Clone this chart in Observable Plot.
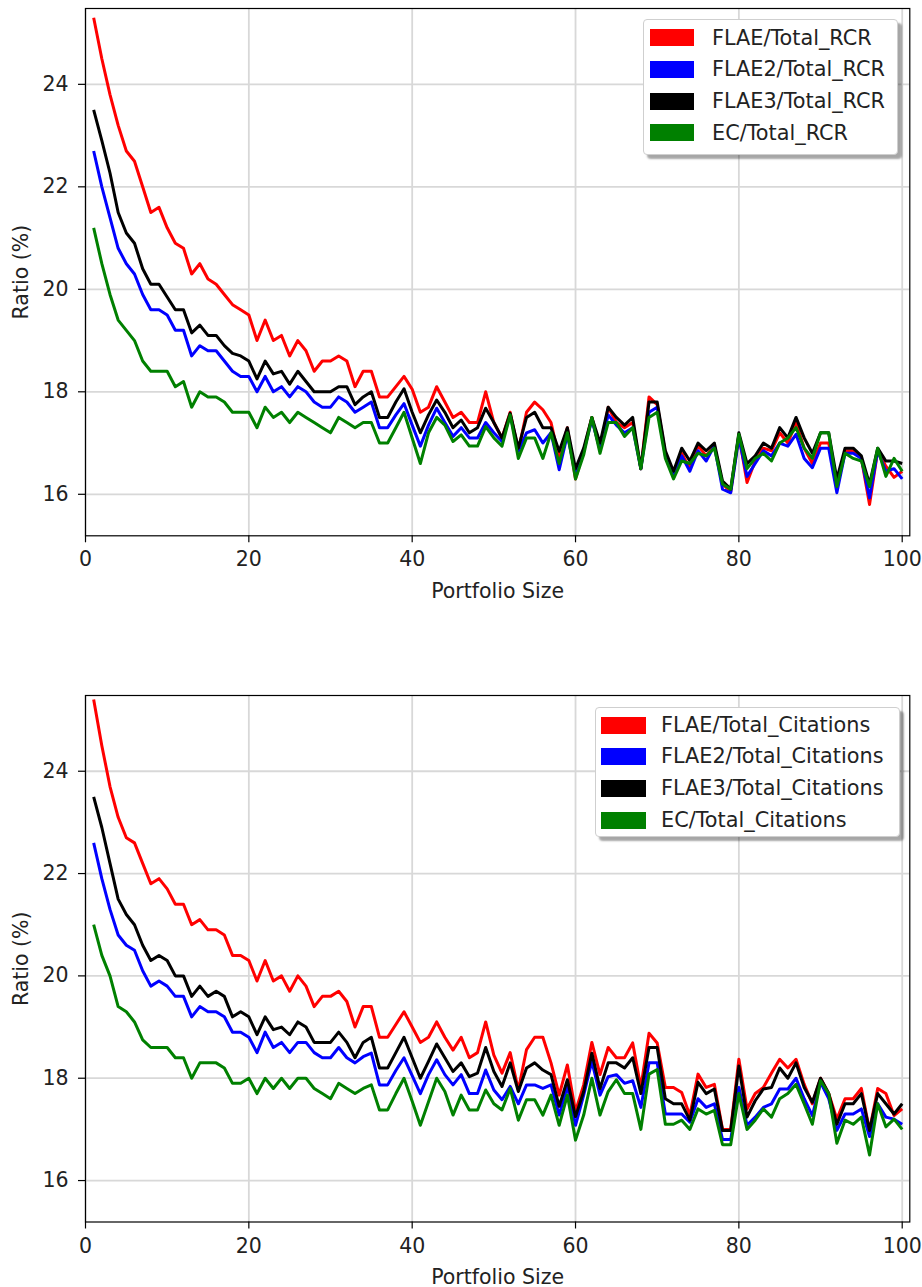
<!DOCTYPE html>
<html>
<head>
<meta charset="utf-8">
<script src="https://cdn.jsdelivr.net/npm/d3@7"></script>
<script src="https://cdn.jsdelivr.net/npm/@observablehq/plot@0.6"></script>
<style>
  html, body { margin: 0; padding: 0; background: #fff; }
  #fig { position: relative; width: 922px; height: 1287px; background: #fff; font-family: "DejaVu Sans", sans-serif; }
  #fig svg { display: block; }
  .legend { position: absolute; box-sizing: border-box; background: #fff; border: 1px solid #cfcfcf; border-radius: 4px;
            box-shadow: 4px 4px 2px rgba(0,0,0,0.35); }
  .legend .row { position: absolute; left: 0; right: 0; height: 32px; }
  .legend .sw { position: absolute; height: 17px; }
  .legend .lab { position: absolute; font-size: 20.8px; color: #222; line-height: 32px; white-space: nowrap; }
</style>
</head>
<body>
<div id="fig"></div>
<script>
// ---------------- data ----------------
const portfolioSize = d3.range(1, 101);

const xTicks = [0, 20, 40, 60, 80, 100];
const yTicks = [16, 18, 20, 22, 24];

const seriesColors = ["#ff0000", "#0000ff", "#000000", "#008000"];
const rcrLabels = ["FLAE/Total_RCR", "FLAE2/Total_RCR", "FLAE3/Total_RCR", "EC/Total_RCR"];
const citLabels = ["FLAE/Total_Citations", "FLAE2/Total_Citations", "FLAE3/Total_Citations", "EC/Total_Citations"];

const rcrFLAE = [
  25.3, 24.5, 23.8, 23.2, 22.7, 22.5, 22.0, 21.5, 21.6, 21.2,
  20.9, 20.8, 20.3, 20.5, 20.2, 20.1, 19.9, 19.7, 19.6, 19.5,
  19.0, 19.4, 19.0, 19.1, 18.7, 19.0, 18.8, 18.4, 18.6, 18.6,
  18.7, 18.6, 18.1, 18.4, 18.4, 17.9, 17.9, 18.1, 18.3, 18.05,
  17.6, 17.7, 18.1, 17.8, 17.5, 17.6, 17.4, 17.4, 18.0, 17.4,
  17.1, 17.6, 16.85, 17.6, 17.8, 17.65, 17.4, 16.7, 17.3, 16.3,
  16.85, 17.5, 16.85, 17.7, 17.4, 17.3, 17.4, 16.5, 17.9, 17.75,
  16.8, 16.4, 16.8, 16.5, 16.95, 16.75, 16.95, 16.2, 16.05, 17.15,
  16.23, 16.65, 16.9, 16.85, 17.2, 17.0, 17.4, 16.9, 16.6, 17.0,
  17.0, 16.15, 16.85, 16.85, 16.7, 15.8, 16.85, 16.55, 16.33, 16.45
];
const rcrFLAE2 = [
  22.7, 22.0, 21.4, 20.8, 20.5, 20.3, 19.9, 19.6, 19.6, 19.5,
  19.2, 19.2, 18.7, 18.9, 18.8, 18.8, 18.6, 18.4, 18.3, 18.3,
  18.0, 18.3, 18.0, 18.1, 17.9, 18.1, 18.0, 17.8, 17.7, 17.7,
  17.9, 17.8, 17.6, 17.7, 17.8, 17.3, 17.3, 17.55, 17.77, 17.35,
  16.94, 17.35, 17.68, 17.4, 17.13, 17.3, 17.1, 17.1, 17.4, 17.2,
  17.03, 17.55, 16.84, 17.2, 17.26, 17.0, 17.2, 16.48, 17.16, 16.4,
  16.84, 17.45, 16.87, 17.55, 17.35, 17.2, 17.3, 16.5, 17.6, 17.7,
  16.75, 16.35, 16.75, 16.45, 16.85, 16.65, 16.95, 16.1, 16.03, 17.1,
  16.35, 16.6, 16.85, 16.75, 17.0, 16.94, 17.17, 16.7, 16.52, 16.9,
  16.9, 16.03, 16.8, 16.8, 16.7, 15.93, 16.85, 16.45, 16.5, 16.3
];
const rcrFLAE3 = [
  23.5, 22.9, 22.27, 21.5, 21.1, 20.9, 20.4, 20.1, 20.1, 19.85,
  19.6, 19.6, 19.15, 19.3, 19.1, 19.1, 18.9, 18.75, 18.7, 18.6,
  18.25, 18.6, 18.35, 18.4, 18.15, 18.4, 18.2, 18.0, 18.0, 18.0,
  18.1, 18.1, 17.75, 17.9, 18.0, 17.5, 17.5, 17.8, 18.06, 17.6,
  17.2, 17.55, 17.84, 17.6, 17.3, 17.45, 17.2, 17.3, 17.68, 17.4,
  17.1, 17.58, 16.9, 17.5, 17.6, 17.3, 17.3, 16.84, 17.3, 16.5,
  16.9, 17.5, 17.0, 17.7, 17.5, 17.35, 17.5, 16.5, 17.8, 17.8,
  16.85, 16.45, 16.9, 16.65, 17.0, 16.85, 17.0, 16.26, 16.1, 17.2,
  16.6, 16.75, 17.0, 16.9, 17.3, 17.1, 17.5, 17.1, 16.8, 17.2,
  17.2, 16.3, 16.9, 16.9, 16.75, 16.2, 16.9, 16.65, 16.65, 16.6
];
const rcrEC = [
  21.2, 20.5, 19.9, 19.4, 19.2, 19.0, 18.6, 18.4, 18.4, 18.4,
  18.1, 18.2, 17.7, 18.0, 17.9, 17.9, 17.8, 17.6, 17.6, 17.6,
  17.3, 17.7, 17.5, 17.6, 17.4, 17.6, 17.5, 17.4, 17.3, 17.2,
  17.5, 17.4, 17.3, 17.4, 17.4, 17.0, 17.0, 17.3, 17.6, 17.1,
  16.6, 17.2, 17.5, 17.35, 17.03, 17.16, 16.94, 16.94, 17.32, 17.1,
  16.94, 17.55, 16.7, 17.1, 17.1, 16.7, 17.2, 16.6, 17.2, 16.3,
  16.77, 17.5, 16.8, 17.4, 17.4, 17.13, 17.3, 16.5, 17.5, 17.6,
  16.7, 16.3, 16.65, 16.6, 16.8, 16.75, 16.9, 16.2, 16.1, 17.17,
  16.5, 16.7, 16.8, 16.65, 17.0, 17.1, 17.3, 16.9, 16.7, 17.2,
  17.2, 16.15, 16.8, 16.7, 16.65, 16.15, 16.9, 16.35, 16.7, 16.45
];

const citFLAE = [
  25.4, 24.5, 23.7, 23.1, 22.7, 22.6, 22.2, 21.8, 21.9, 21.7,
  21.4, 21.4, 21.0, 21.1, 20.9, 20.9, 20.8, 20.4, 20.4, 20.3,
  19.9, 20.3, 19.9, 20.0, 19.7, 20.0, 19.8, 19.4, 19.6, 19.6,
  19.7, 19.5, 19.0, 19.4, 19.4, 18.8, 18.8, 19.05, 19.3, 19.0,
  18.7, 18.8, 19.1, 18.8, 18.55, 18.8, 18.4, 18.5, 19.1, 18.45,
  18.1, 18.5, 17.77, 18.56, 18.8, 18.8, 18.3, 17.67, 18.26, 17.35,
  17.87, 18.7, 18.07, 18.6, 18.4, 18.4, 18.69, 17.82, 18.88, 18.69,
  17.82, 17.82, 17.72, 17.27, 18.08, 17.82, 17.88, 17.0, 17.0, 18.37,
  17.4, 17.7, 17.82, 18.1, 18.37, 18.2, 18.37, 17.88, 17.5, 18.0,
  17.7, 17.2, 17.6, 17.6, 17.8, 16.98, 17.8, 17.7, 17.27, 17.4
];
const citFLAE2 = [
  22.6, 21.9, 21.3, 20.8, 20.6, 20.5, 20.1, 19.8, 19.9, 19.8,
  19.6, 19.6, 19.2, 19.4, 19.3, 19.3, 19.2, 18.9, 18.9, 18.8,
  18.5, 18.9, 18.6, 18.7, 18.5, 18.7, 18.7, 18.5, 18.4, 18.4,
  18.6, 18.4, 18.3, 18.42, 18.49, 17.87, 17.87, 18.15, 18.4, 18.05,
  17.7, 18.07, 18.36, 18.07, 17.87, 18.07, 17.7, 17.7, 18.16, 17.77,
  17.58, 17.84, 17.5, 17.87, 17.87, 17.8, 17.87, 17.28, 17.84, 17.08,
  17.67, 18.33, 17.67, 18.03, 18.07, 17.9, 17.95, 17.43, 18.3, 18.3,
  17.3, 17.3, 17.3, 17.14, 17.6, 17.43, 17.5, 16.8, 16.8, 17.82,
  17.08, 17.24, 17.43, 17.5, 17.79, 17.79, 18.0, 17.6, 17.27, 17.92,
  17.6, 16.98, 17.3, 17.3, 17.4, 16.86, 17.5, 17.24, 17.2, 17.1
];
const citFLAE3 = [
  23.5, 22.9, 22.2, 21.5, 21.2, 21.0, 20.6, 20.3, 20.4, 20.3,
  20.0, 20.0, 19.6, 19.8, 19.6, 19.7, 19.6, 19.2, 19.3, 19.2,
  18.85, 19.2, 18.95, 19.0, 18.85, 19.1, 19.0, 18.7, 18.7, 18.7,
  18.9, 18.7, 18.4, 18.7, 18.8, 18.2, 18.2, 18.5, 18.8, 18.4,
  18.0, 18.33, 18.67, 18.4, 18.13, 18.3, 18.03, 18.1, 18.6, 18.13,
  17.84, 18.3, 17.74, 18.2, 18.3, 18.16, 18.07, 17.45, 17.97, 17.25,
  17.74, 18.49, 17.8, 18.3, 18.3, 18.2, 18.4, 17.7, 18.6, 18.6,
  17.6, 17.5, 17.5, 17.18, 17.92, 17.7, 17.79, 16.98, 16.98, 18.24,
  17.24, 17.56, 17.79, 17.82, 18.2, 18.0, 18.3, 17.82, 17.53, 18.0,
  17.7, 17.1, 17.5, 17.5, 17.7, 16.98, 17.7, 17.5, 17.3, 17.5
];
const citEC = [
  21.0, 20.4, 20.0, 19.4, 19.3, 19.1, 18.75, 18.6, 18.6, 18.6,
  18.4, 18.4, 18.0, 18.3, 18.3, 18.3, 18.2, 17.9, 17.9, 18.0,
  17.7, 18.0, 17.8, 18.0, 17.8, 18.0, 18.0, 17.8, 17.7, 17.6,
  17.9, 17.8, 17.7, 17.8, 17.87, 17.38, 17.38, 17.7, 18.0, 17.55,
  17.08, 17.54, 18.0, 17.74, 17.28, 17.67, 17.38, 17.38, 17.77, 17.5,
  17.38, 17.8, 17.18, 17.58, 17.58, 17.28, 17.67, 17.08, 17.67, 16.79,
  17.28, 18.0, 17.28, 17.74, 17.97, 17.7, 17.7, 17.0, 18.08, 18.17,
  17.1, 17.1, 17.18, 17.0, 17.4, 17.3, 17.37, 16.7, 16.7, 17.7,
  17.0, 17.18, 17.4, 17.24, 17.6, 17.7, 17.88, 17.5, 17.1, 17.95,
  17.7, 16.73, 17.18, 17.1, 17.24, 16.5, 17.5, 17.05, 17.2, 17.0
];

// ---------------- drawing ----------------
const fig = document.getElementById("fig");

function panel(seriesList, labels, layout) {
  const marks = [
    Plot.gridX(xTicks, {stroke: "#d8d8d8", strokeOpacity: 1, strokeWidth: 1.8}),
    Plot.gridY(yTicks, {stroke: "#d8d8d8", strokeOpacity: 1, strokeWidth: 1.8})
  ];
  seriesList.forEach((vals, k) => {
    const rows = portfolioSize.map((x, i) => ({x, y: vals[i]}));
    marks.push(Plot.line(rows, {x: "x", y: "y", stroke: seriesColors[k], strokeWidth: 3, strokeLinejoin: "round", strokeLinecap: "butt"}));
  });
  marks.push(Plot.frame({stroke: "#000", strokeWidth: 1.2}));
  marks.push(Plot.axisX(xTicks, {tickSize: 7, tickPadding: 9, stroke: "#000", strokeWidth: 1.2, tickFormat: d => String(d),
    label: "Portfolio Size", labelAnchor: "center", labelOffset: layout.xLabelOffset, labelArrow: "none"}));
  marks.push(Plot.axisY(yTicks, {tickSize: 7, tickPadding: 10, stroke: "#000", strokeWidth: 1.2, tickFormat: d => String(d),
    label: "Ratio (%)", labelAnchor: "center", labelOffset: 72, labelArrow: "none"}));

  const svg = Plot.plot({
    width: 922,
    height: layout.height,
    marginLeft: 85,
    marginRight: 12.7,
    marginTop: layout.marginTop,
    marginBottom: layout.marginBottom,
    x: {domain: [0, 100.93]},
    y: {domain: [15.19, 25.48]},
    style: {fontFamily: "DejaVu Sans", fontSize: "20.5px", color: "#222", background: "#fff", overflow: "visible"},
    marks
  });
  fig.appendChild(svg);

  // legend box (inside plot area, upper right)
  const lg = document.createElement("div");
  lg.className = "legend";
  Object.assign(lg.style, {left: layout.legend.left + "px", top: layout.legend.top + "px",
    width: layout.legend.width + "px", height: layout.legend.height + "px"});
  labels.forEach((lab, k) => {
    const row = document.createElement("div");
    row.className = "row";
    row.style.top = (layout.legend.rowY[k] - 16) + "px";
    const sw = document.createElement("div");
    sw.className = "sw";
    Object.assign(sw.style, {left: layout.legend.swLeft + "px", width: layout.legend.swWidth + "px", background: seriesColors[k], top: "7.5px"});
    const t = document.createElement("div");
    t.className = "lab";
    t.style.left = layout.legend.textLeft + "px";
    t.textContent = lab;
    row.appendChild(sw);
    row.appendChild(t);
    lg.appendChild(row);
  });
  fig.appendChild(lg);
}

panel([rcrFLAE, rcrFLAE2, rcrFLAE3, rcrEC], rcrLabels, {
  height: 640, marginTop: 8, marginBottom: 104.7, xLabelOffset: 62,
  legend: {left: 643, top: 19, width: 255, height: 136, rowY: [17.7, 49.3, 81, 112.7], swLeft: 6, swWidth: 44, textLeft: 68}
});
panel([citFLAE, citFLAE2, citFLAE3, citEC], citLabels, {
  height: 647, marginTop: 55, marginBottom: 65.5, xLabelOffset: 62,
  legend: {left: 595, top: 707, width: 305, height: 130, rowY: [17, 48, 80, 112], swLeft: 5, swWidth: 45, textLeft: 65}
});
</script>
</body>
</html>
